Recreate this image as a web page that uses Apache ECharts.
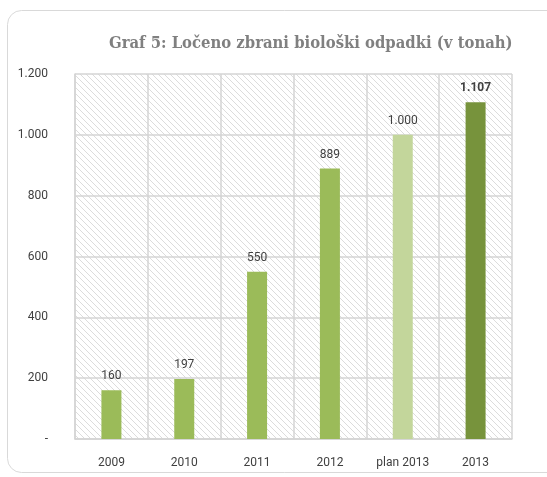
<!DOCTYPE html>
<html>
<head>
<meta charset="utf-8">
<script src="https://cdn.jsdelivr.net/npm/echarts@6/dist/echarts.min.js"></script>
<style>
    html, body {margin: 0; padding: 0; background: #fff;}
    #chart {width: 547px; height: 477px;}
</style>
</head>
<body>
<div id="chart"></div>
<script>
    var categories = ['2009', '2010', '2011', '2012', 'plan 2013', '2013'];
    var values = [160, 197, 550, 889, 1000, 1107];
    var barColors = ['#9BBB59', '#9BBB59', '#9BBB59', '#9BBB59', '#C3D69B', '#77933C'];

    // format number with dot as thousands separator
    function fmt(v) {
        if (v === 0) return '-';
        return String(v).replace(/\B(?=(\d{3})+(?!\d))/g, '.');
    }

    // hatched background for the plot area
    var pat = document.createElement('canvas');
    pat.width = 6; pat.height = 6;
    var ctx = pat.getContext('2d');
    ctx.strokeStyle = '#dcdcdc';
    ctx.lineWidth = 1;
    ctx.beginPath();
    ctx.moveTo(-1, -1); ctx.lineTo(7, 7);
    ctx.moveTo(-1, 5); ctx.lineTo(1, 7);
    ctx.moveTo(5, -1); ctx.lineTo(7, 1);
    ctx.stroke();

    var labelFont = 'Roboto, "Open Sans", sans-serif';

    var myChart = echarts.init(document.getElementById('chart'));
    var option = {
        animation: false,
        title: {
            text: 'Graf 5: Ločeno zbrani biološki odpadki (v tonah)',
            left: 104,
            top: 30,
            textStyle: {
                fontFamily: '"DejaVu Serif Condensed", "DejaVu Serif", serif',
                fontWeight: 'bold',
                fontSize: 16.5,
                color: '#808080'
            }
        },
        graphic: [{
            type: 'rect',
            shape: {x: 7.5, y: 10.5, width: 600, height: 462, r: 14},
            style: {fill: 'none', stroke: '#d9d9d9', lineWidth: 1},
            silent: true
        }],
        grid: {
            left: 75,
            right: 35,
            top: 74,
            bottom: 38,
            show: true,
            borderWidth: 0,
            backgroundColor: {image: pat, repeat: 'repeat'}
        },
        xAxis: {
            type: 'category',
            data: categories,
            axisTick: {show: false},
            axisLine: {lineStyle: {color: '#d4d4d4', width: 1.5}},
            splitLine: {show: true, lineStyle: {color: '#d4d4d4', width: 1.5}},
            axisLabel: {
                color: '#404040',
                fontFamily: labelFont,
                fontSize: 12,
                margin: 18,
                interval: 0
            }
        },
        yAxis: {
            type: 'value',
            min: 0,
            max: 1200,
            interval: 200,
            axisLine: {show: true, lineStyle: {color: '#d4d4d4', width: 1.5}},
            axisTick: {show: false},
            splitLine: {lineStyle: {color: '#d4d4d4', width: 1.5}},
            axisLabel: {
                color: '#404040',
                fontFamily: labelFont,
                fontSize: 12,
                margin: 27,
                formatter: fmt
            }
        },
        series: [{
            type: 'bar',
            barWidth: 20,
            data: values.map(function (v, i) {
                return {
                    value: v,
                    itemStyle: {color: barColors[i]},
                    label: i === 5 ? {fontWeight: 'bold'} : {}
                };
            }),
            label: {
                show: true,
                position: 'top',
                distance: 8,
                color: '#404040',
                fontFamily: labelFont,
                fontSize: 12,
                formatter: function (p) { return fmt(p.value); }
            }
        }]
    };
    myChart.setOption(option);
</script>
</body>
</html>
